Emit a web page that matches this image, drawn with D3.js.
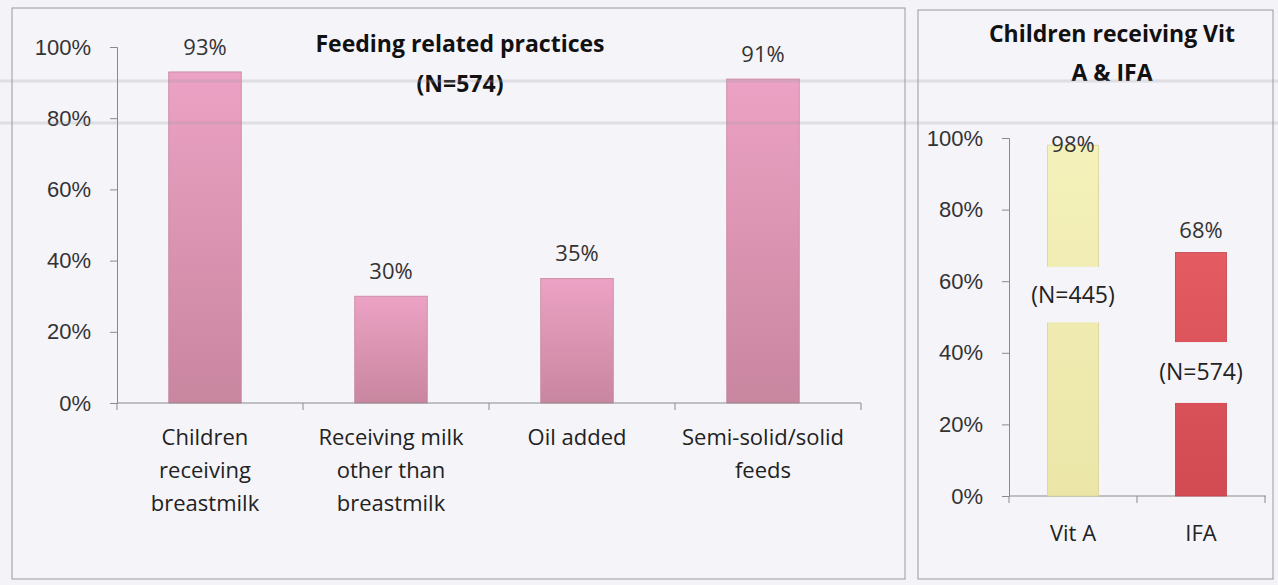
<!DOCTYPE html>
<html>
<head>
<meta charset="utf-8">
<script src="https://cdn.jsdelivr.net/npm/d3@7"></script>
<style>
  body { margin: 0; background: #f4f4f8; }
  svg { display: block; font-family: "Open Sans", "Noto Sans", sans-serif; }
</style>
</head>
<body>
<div id="chart"></div>
<script>
// left panel data
const feedCategories = [
  ["Children", "receiving", "breastmilk"],
  ["Receiving milk", "other than", "breastmilk"],
  ["Oil added"],
  ["Semi-solid/solid", "feeds"]
];
const feedValues = [0.93, 0.30, 0.35, 0.91];

// right panel data
const vitCategories = ["Vit A", "IFA"];
const vitValues = [0.98, 0.68];
const vitNotes = ["(N=445)", "(N=574)"];

const yTicks = [0, 0.2, 0.4, 0.6, 0.8, 1];

const W = 1278, H = 585;
const FS = 22;
const svg = d3.select("#chart").append("svg")
  .attr("width", W)
  .attr("height", H);

svg.append("rect").attr("width", W).attr("height", H).attr("fill", "#f4f4f8");

const defs = svg.append("defs");
function grad(id, top, bottom) {
  const g = defs.append("linearGradient").attr("id", id)
    .attr("x1", 0).attr("y1", 0).attr("x2", 0).attr("y2", 1);
  g.append("stop").attr("offset", "0%").attr("stop-color", top);
  g.append("stop").attr("offset", "100%").attr("stop-color", bottom);
}
grad("pink", "#eca2c4", "#c9869f");
grad("yellow", "#f4f1ba", "#ebe6a8");
grad("red", "#e45c62", "#d24a52");

// panel frames
svg.append("rect").attr("x", 12).attr("y", 8).attr("width", 893).attr("height", 571)
  .attr("fill", "#f5f4f9").attr("stroke", "#9a9a9a");
svg.append("rect").attr("x", 918).attr("y", 10).attr("width", 355).attr("height", 569)
  .attr("fill", "#f5f4f9").attr("stroke", "#9a9a9a");

const fmt = d3.format(".0%");

// ---- left chart ----
const x1 = d3.scaleBand().domain(d3.range(feedValues.length)).range([112, 856])
  .paddingInner(0.61).paddingOuter(0.305);
const y1 = d3.scaleLinear().domain([0, 1]).range([403, 47]);

const g1 = svg.append("g");
g1.append("g")
  .attr("transform", "translate(117,0)")
  .call(d3.axisLeft(y1).tickValues(yTicks).tickFormat(fmt).tickSize(7).tickPadding(19))
  .call(a => a.select(".domain").attr("stroke", "#8a8a8a"))
  .call(a => a.selectAll("line").attr("stroke", "#8a8a8a"))
  .call(a => a.selectAll("text").attr("font-size", FS).attr("fill", "#333"));

g1.selectAll("rect.bar").data(feedValues).join("rect")
  .attr("class", "bar")
  .attr("x", (d, i) => x1(i))
  .attr("y", d => y1(d))
  .attr("width", x1.bandwidth())
  .attr("height", d => y1(0) - y1(d))
  .attr("fill", "url(#pink)")
  .attr("stroke", "#c7869f").attr("stroke-width", 0.8);

g1.selectAll("text.val").data(feedValues).join("text")
  .attr("class", "val")
  .attr("x", (d, i) => x1(i) + x1.bandwidth() / 2)
  .attr("y", d => y1(d) - 17)
  .attr("text-anchor", "middle")
  .attr("font-size", FS).attr("fill", "#333")
  .text(fmt);

const xStep1 = (861 - 117) / feedValues.length;
g1.append("line").attr("x1", 117).attr("x2", 861).attr("y1", 403).attr("y2", 403).attr("stroke", "#8a8a8a");
g1.selectAll("line.xt").data(d3.range(feedValues.length + 1)).join("line")
  .attr("class", "xt")
  .attr("x1", i => 117 + i * xStep1).attr("x2", i => 117 + i * xStep1)
  .attr("y1", 403).attr("y2", 410).attr("stroke", "#8a8a8a");

g1.selectAll("text.cat").data(feedCategories).join("text")
  .attr("class", "cat")
  .attr("x", (d, i) => x1(i) + x1.bandwidth() / 2)
  .attr("y", 445)
  .attr("text-anchor", "middle")
  .attr("font-size", FS).attr("fill", "#222")
  .selectAll("tspan").data(d => d).join("tspan")
  .attr("x", function() { return this.parentNode.getAttribute("x"); })
  .attr("dy", (d, i) => i === 0 ? 0 : 33)
  .text(d => d);

g1.append("text").attr("x", 460).attr("y", 52).attr("text-anchor", "middle")
  .attr("font-size", 23).attr("font-weight", "bold").attr("fill", "#111")
  .text("Feeding related practices");
g1.append("text").attr("x", 460).attr("y", 92).attr("text-anchor", "middle")
  .attr("font-size", 23).attr("font-weight", "bold").attr("fill", "#111")
  .text("(N=574)");

// ---- right chart ----
const x2 = d3.scaleBand().domain(d3.range(vitValues.length)).range([1009, 1265]).paddingInner(0.6).paddingOuter(0.3);
const y2 = d3.scaleLinear().domain([0, 1]).range([496, 138]);

const g2 = svg.append("g");
g2.append("g")
  .attr("transform", "translate(1009,0)")
  .call(d3.axisLeft(y2).tickValues(yTicks).tickFormat(fmt).tickSize(7).tickPadding(19))
  .call(a => a.select(".domain").attr("stroke", "#8a8a8a"))
  .call(a => a.selectAll("line").attr("stroke", "#8a8a8a"))
  .call(a => a.selectAll("text").attr("font-size", FS).attr("fill", "#333"));

g2.append("line").attr("x1", 1009).attr("x2", 1266).attr("y1", 496).attr("y2", 496).attr("stroke", "#8a8a8a");
g2.selectAll("line.xt").data([0, 1, 2]).join("line")
  .attr("class", "xt")
  .attr("x1", i => 1009 + i * 128).attr("x2", i => 1009 + i * 128)
  .attr("y1", 496).attr("y2", 503).attr("stroke", "#8a8a8a");

const vitFill = ["url(#yellow)", "url(#red)"];
const vitStroke = ["#d8d49a", "#c0444c"];
g2.selectAll("rect.bar").data(vitValues).join("rect")
  .attr("class", "bar")
  .attr("x", (d, i) => x2(i))
  .attr("y", d => y2(d))
  .attr("width", x2.bandwidth())
  .attr("height", d => y2(0) - y2(d))
  .attr("fill", (d, i) => vitFill[i])
  .attr("stroke", (d, i) => vitStroke[i]).attr("stroke-width", 0.8);

// N notes sit in boxes that cover part of each bar
const noteTop = [y2(0.64), y2(0.43)];
const noteBottom = [y2(0.485), y2(0.26)];
g2.selectAll("rect.note").data(vitNotes).join("rect")
  .attr("class", "note")
  .attr("x", (d, i) => x2(i) - 4)
  .attr("y", (d, i) => noteTop[i])
  .attr("width", x2.bandwidth() + 8)
  .attr("height", (d, i) => noteBottom[i] - noteTop[i])
  .attr("fill", "#f5f4f9");
g2.selectAll("text.note").data(vitNotes).join("text")
  .attr("class", "note")
  .attr("x", (d, i) => x2(i) + x2.bandwidth() / 2)
  .attr("y", (d, i) => (noteTop[i] + noteBottom[i]) / 2 + 8)
  .attr("text-anchor", "middle")
  .attr("font-size", 23).attr("fill", "#222")
  .text(d => d);

g2.selectAll("text.val").data(vitValues).join("text")
  .attr("class", "val")
  .attr("x", (d, i) => x2(i) + x2.bandwidth() / 2)
  .attr("y", (d, i) => i === 0 ? y2(d) + 7 : y2(d) - 15)
  .attr("text-anchor", "middle")
  .attr("font-size", FS).attr("fill", "#333")
  .text(fmt);

g2.selectAll("text.cat").data(vitCategories).join("text")
  .attr("class", "cat")
  .attr("x", (d, i) => x2(i) + x2.bandwidth() / 2)
  .attr("y", 541)
  .attr("text-anchor", "middle")
  .attr("font-size", FS).attr("fill", "#222")
  .text(d => d);

g2.append("text").attr("x", 1112).attr("y", 42).attr("text-anchor", "middle")
  .attr("font-size", 23).attr("font-weight", "bold").attr("fill", "#111")
  .text("Children receiving Vit");
g2.append("text").attr("x", 1112).attr("y", 81).attr("text-anchor", "middle")
  .attr("font-size", 23).attr("font-weight", "bold").attr("fill", "#111")
  .text("A & IFA");

// faint scan streaks across the page
svg.selectAll("line.streak").data([81, 123]).join("line")
  .attr("class", "streak")
  .attr("x1", 0).attr("x2", W).attr("y1", d => d).attr("y2", d => d)
  .attr("stroke", "#9a9aa4").attr("stroke-opacity", 0.25).attr("stroke-width", 3);
</script>
</body>
</html>
